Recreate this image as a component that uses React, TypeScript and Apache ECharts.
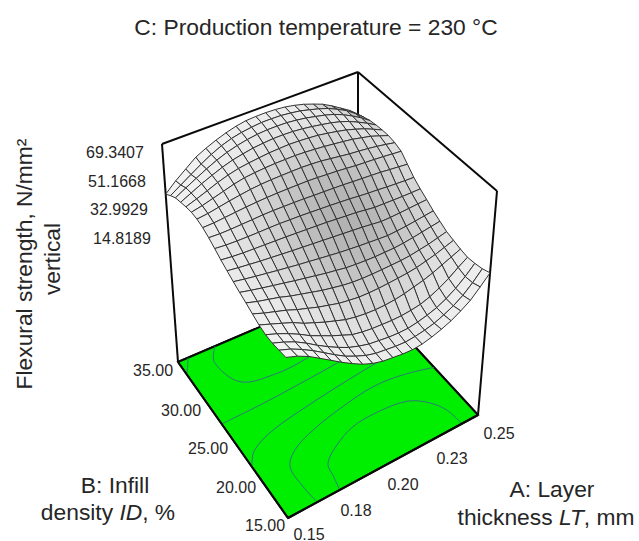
import React, { useEffect, useRef } from "react";
import * as echarts from "echarts";

const titleText = "C: Production temperature = 230 °C";
const zTicks = ["69.3407", "51.1668", "32.9929", "14.8189"];
const idTicks = ["35.00", "30.00", "25.00", "20.00", "15.00"];
const ltTicks = ["0.15", "0.18", "0.20", "0.23", "0.25"];

const ltRange = [0.15, 0.25];
const idRange = [15, 35];
const zRange = [-78, 74];

// rows: ID from 15 to 35 (step 1); columns: LT from 0.15 to 0.25 (step 0.005)
const strength: number[][] = [
  [30,27,23,18,13,8,3.5,-0.5,-3.5,-5.5,-6.5,-7.5,-8,-7.5,-6,-4,-1.5,2,6,12,18.5],
  [29,26,22,17.5,12.5,7.5,3,-0.5,-3.5,-5.5,-6.5,-7.5,-8,-7.5,-6.5,-5,-2.5,0.5,4.5,10,16.5],
  [28,25,21.5,17,12,7.5,3.5,0,-2.5,-4.5,-5.5,-6.5,-7,-7,-6,-4.5,-2.5,0.5,4.5,9.5,15.5],
  [28,25,21.5,17.5,13,9.5,6,3,0,-1.5,-2.5,-3,-3.5,-3.5,-3,-2,0,3,6.5,11,15],
  [29,26,23,20,16,13,10,7.5,5,3.5,2.5,2,2,2.5,3.5,5,6.5,8.5,11,13.5,16],
  [31,28,25.5,23,20,17.5,15,13,11,9.8,8.8,8.5,8.5,8.8,9.2,9.7,10.5,12,13.5,15.5,17.5],
  [33,30.5,28.5,26.5,24,22,20,18,16.5,15,14,13.5,13.3,13.3,13.4,13.5,14,15,16,17.5,19],
  [34.8,32.8,31,29.3,27.7,26,24.5,23,21.5,20.3,19,18.3,17.8,17.5,17.5,17.5,18,18.8,19.8,20.8,21.7],
  [36.8,35.2,33.8,32.5,31.2,30,28.8,27.8,26.7,25.7,24.7,23.9,23.2,22.6,22,21.5,21.8,22.3,23,23.8,24.5],
  [39,37.8,36.8,35.8,35,34.2,33.4,32.7,32,31.3,30.6,29.9,29.2,28.5,27.6,26.7,26.7,27,27.3,27.7,28],
  [41.3,40.3,39.6,39.2,38.8,38.4,38,37.5,37,36.5,36,35.3,34.6,34,33,32,31.8,31.5,31.3,31.2,31.2],
  [44,43.2,42.8,42.6,42.5,42.5,42.4,42,41.7,41.2,40.7,40.2,39.6,39,38.2,37.5,37,36.3,35.8,35.3,35],
  [46.5,46,46,46.2,46.4,46.7,46.7,46.5,46.3,46,45.5,45.2,44.8,44.4,43.8,43.3,42.8,42.3,41.5,40.8,40],
  [48.5,48.6,49.2,49.8,50.4,50.8,51.1,51.2,51.2,51.1,51,50.6,50,49.5,48.8,48,47.5,47,46.4,45.7,45],
  [49.5,50.3,51.6,52.9,54,55,55.6,55.9,56,56,56,55.6,55,54,53,52,51.3,50.5,49.5,48.3,47],
  [49.5,51,53,55,57,58.5,59.2,59.7,60,60,60,59.6,59,58.3,57.4,56.5,55.5,54,52.5,50.3,48],
  [48.5,51,53.7,56.5,58.8,60.5,61.5,62.3,63,63.3,63.5,63.2,62.7,62,60.8,59.5,58,56,53.8,51,48],
  [47,50.5,54,57,59.8,62,63.5,64.8,65.5,66,66,65.7,65,64,62.8,61.5,59.8,57.5,54.5,51.3,47.7],
  [45.5,49.5,53.3,57,60.3,63,65,66.5,67.5,68,68,67.8,67,66,64.5,63,61,58.3,55,51.3,47],
  [42.5,47,51.5,56,60,63.3,65.7,67.3,68.3,69,69,68.8,68,67,65.3,63.5,61.3,58.3,55,50.5,45.5],
  [39,45.5,51,56.5,60,63,65.5,67.5,68.8,69.2,69.3,69,68.3,67,65.3,63,60.5,57,53,49,44],
];

// contour lines on the floor
const contourLT1 = [0.175,0.1765,0.178,0.186,0.198,0.212,0.227,0.235,0.2395,0.2405];
const contourID1 = [15,16.4,17.8,19,20,20.2,19.8,18.6,17,15];
const contourLT2 = [0.164,0.163,0.1636,0.17,0.1822,0.2,0.2187,0.235,0.25];
const contourID2 = [15,17,19.28,20.6,21.58,22.4,22.9,22.6,21.8];
const contourLT3 = [0.15,0.155,0.1674,0.188,0.2061,0.2242,0.25];
const contourID3 = [21,22.4,23.46,24.2,24.7,25.1,25.6];
const contourLT4 = [0.15,0.171,0.192,0.212,0.235,0.25];
const contourID4 = [26.44,26.54,26.8,27.12,27.6,28];
const contourLT5 = [0.169,0.164,0.1684,0.184,0.2017,0.22,0.235,0.235];
const contourID5 = [35,33.2,29.88,29,29.14,30,32,35];
const contourLT6 = [0.155,0.1535,0.15];
const contourID6 = [35,34.4,33.2];

// screen corners of the box: [LT low/ID low, LT high/ID low, LT high/ID high, LT low/ID high]
const floorCorners = [[288,518],[478,415],[358,285],[178,362]];
const topCorners = [[285,292],[497,191],[358,72],[162,144]];

function homography(c: number[][]) {
  const [p0, p1, p2, p3] = c;
  const sx = p0[0]-p1[0]+p2[0]-p3[0], sy = p0[1]-p1[1]+p2[1]-p3[1];
  const dx1 = p1[0]-p2[0], dx2 = p3[0]-p2[0], dy1 = p1[1]-p2[1], dy2 = p3[1]-p2[1];
  const det = dx1*dy2-dx2*dy1;
  const g = (sx*dy2-dx2*sy)/det, h = (dx1*sy-sx*dy1)/det;
  const a = p1[0]-p0[0]+g*p1[0], b = p3[0]-p0[0]+h*p3[0];
  const d = p1[1]-p0[1]+g*p1[1], e = p3[1]-p0[1]+h*p3[1];
  return (s: number, t: number) => {
    const k = g*s+h*t+1;
    return [(a*s+b*t+p0[0])/k, (d*s+e*t+p0[1])/k];
  };
}
const floorH = homography(floorCorners);
const topH = homography(topCorners);

function project(lt: number, id: number, z: number) {
  const u = (lt-ltRange[0])/(ltRange[1]-ltRange[0]);
  const v = (id-idRange[0])/(idRange[1]-idRange[0]);
  const w = (z-zRange[0])/(zRange[1]-zRange[0]);
  const f = floorH(u,v), t = topH(u,v);
  return [f[0]+(t[0]-f[0])*w, f[1]+(t[1]-f[1])*w];
}

const nRows = strength.length, nCols = strength[0].length;
const ltAt = (j: number) => ltRange[0]+(ltRange[1]-ltRange[0])*j/(nCols-1);
const idAt = (i: number) => idRange[0]+(idRange[1]-idRange[0])*i/(nRows-1);

// Cell grey: darkest in the middle of the sheet, light toward its rim,
// with the strongly foreshortened side corners darker again.
function shade(i: number, j: number, pts: number[][]) {
  let a = 0;
  for (let k = 0; k < 4; k++) {
    const p = pts[k], q = pts[(k+1)%4];
    a += p[0]*q[1]-q[0]*p[1];
  }
  a = Math.abs(a)/2;
  const u = (j+0.5)/(nCols-1), v = (i+0.5)/(nRows-1);
  const du = (u-0.6)/0.42, dv = (v-0.5)/0.32;
  let g = 243-65*Math.exp(-(du*du+dv*dv));
  if (a < 60) g = Math.min(g, 190+Math.max(0,a-20)*1.1);
  g = Math.round(g);
  return `rgb(${g},${g},${g})`;
}

const contours = [
  [contourLT1,contourID1],[contourLT2,contourID2],[contourLT3,contourID3],
  [contourLT4,contourID4],[contourLT5,contourID5],[contourLT6,contourID6],
];

const backEdges = [
  [[0.15,35,zRange[1]],[0.25,35,zRange[1]]],
  [[0.25,35,zRange[1]],[0.25,15,zRange[1]]],
  [[0.25,35,zRange[0]],[0.25,35,zRange[1]]],
  [[0.15,35,zRange[0]],[0.25,35,zRange[0]]],
  [[0.25,35,zRange[0]],[0.25,15,zRange[0]]],
];
const frontEdges = [
  [[0.15,35,zRange[0]],[0.15,35,zRange[1]]],
  [[0.25,15,zRange[0]],[0.25,15,zRange[1]]],
  [[0.15,35,zRange[0]],[0.15,15,zRange[0]]],
  [[0.15,15,zRange[0]],[0.25,15,zRange[0]]],
];

const cellData: number[][] = [];
for (let i = nRows-2; i >= 0; i--) for (let j = nCols-2; j >= 0; j--) cellData.push([i,j]);

const FONT = "'Liberation Sans', Arial, sans-serif";
const LABEL = 22.8;
const txt = (text: string, x: number, y: number, fontSize = 16, rotation = 0) => ({
  type: "text", x, y, rotation,
  style: { text, fontFamily: FONT, fontSize, fill: "#262626", align: "center", verticalAlign: "middle" },
});
const richTxt = (text: string, x: number, y: number) => ({
  type: "text", x, y,
  style: {
    text, fontFamily: FONT, fontSize: LABEL, fill: "#262626", align: "center", verticalAlign: "middle",
    rich: {
      a: { fontFamily: FONT, fontSize: LABEL, fill: "#262626" },
      i: { fontFamily: FONT, fontSize: LABEL, fill: "#262626", fontStyle: "italic" },
    },
  },
});

const zTickPos = [[115,152],[117,181],[119,209],[122,238]];
const idTickPos = [[153,370],[181,410],[208,448],[236,487],[265,525]];
const ltTickPos = [[309,534],[356,510],[403,484],[452,458],[499,433]];

function edgeSeries(edges: number[][][], width: number) {
  return {
    type: "custom", coordinateSystem: "cartesian2d", silent: true, clip: false,
    data: edges.map((_, k) => [k, 0]),
    renderItem: (params: any, api: any) => {
      const e = edges[api.value(0)];
      const a = api.coord(project(e[0][0],e[0][1],e[0][2]));
      const b = api.coord(project(e[1][0],e[1][1],e[1][2]));
      return { type: "line", shape: { x1:a[0], y1:a[1], x2:b[0], y2:b[1] }, style: { stroke: "#0a0a0a", lineWidth: width } };
    },
  };
}

export default function App() {
  const ref = useRef<HTMLDivElement>(null);
  useEffect(() => {
    const chart = echarts.init(ref.current!, null, { renderer: "svg" });
    chart.setOption({
      animation: false,
      backgroundColor: "#ffffff",
      grid: { left: 0, right: 0, top: 0, bottom: 0 },
      xAxis: { type: "value", min: 0, max: 639, show: false },
      yAxis: { type: "value", min: 0, max: 541, inverse: true, show: false },
      series: [
        edgeSeries(backEdges, 2),
        {
          type: "custom", coordinateSystem: "cartesian2d", silent: true, clip: false,
          data: [[0, 0]],
          renderItem: (params: any, api: any) => {
            const pts = [[0.15,15],[0.25,15],[0.25,35],[0.15,35]].map(p => api.coord(project(p[0],p[1],zRange[0])));
            return { type: "polygon", shape: { points: pts }, style: { fill: "#00ee00", stroke: "#0a0a0a", lineWidth: 2 } };
          },
        },
        {
          type: "custom", coordinateSystem: "cartesian2d", silent: true, clip: false,
          data: contours.map((_, k) => [k, 0]),
          renderItem: (params: any, api: any) => {
            const c = contours[api.value(0)];
            const pts = c[0].map((lt, k) => api.coord(project(lt, c[1][k], zRange[0])));
            return { type: "polyline", shape: { points: pts, smooth: 0.35 }, style: { stroke: "#2f7a7a", lineWidth: 1, fill: "none" } };
          },
        },
        edgeSeries(frontEdges, 2),
        {
          type: "custom", coordinateSystem: "cartesian2d", silent: true, clip: false,
          data: cellData,
          renderItem: (params: any, api: any) => {
            const i = api.value(0), j = api.value(1);
            const raw = [[i,j],[i,j+1],[i+1,j+1],[i+1,j]].map(p => project(ltAt(p[1]), idAt(p[0]), strength[p[0]][p[1]]));
            const pts = raw.map(p => api.coord(p));
            return { type: "polygon", shape: { points: pts }, style: { fill: shade(i, j, raw), stroke: "#333333", lineWidth: 1 } };
          },
        },
      ],
      graphic: [
        txt(titleText, 316, 27, LABEL),
        txt("Flexural strength, N/mm²", 24, 264, LABEL, Math.PI/2),
        txt("vertical", 52, 259, LABEL, Math.PI/2),
        ...zTicks.map((t,k) => txt(t, zTickPos[k][0], zTickPos[k][1], 16)),
        ...idTicks.map((t,k) => txt(t, idTickPos[k][0], idTickPos[k][1], 16)),
        ...ltTicks.map((t,k) => txt(t, ltTickPos[k][0], ltTickPos[k][1], 16)),
        txt("B: Infill", 115, 485, LABEL),
        richTxt("{a|density }{i|ID}{a|, %}", 108, 512),
        txt("A: Layer", 552, 489, LABEL),
        richTxt("{a|thickness }{i|LT}{a|, mm}", 546, 517),
      ],
    });
    return () => chart.dispose();
  }, []);
  return <div ref={ref} style={{ position: "fixed", left: 0, top: 0, width: 639, height: 541 }} />;
}
